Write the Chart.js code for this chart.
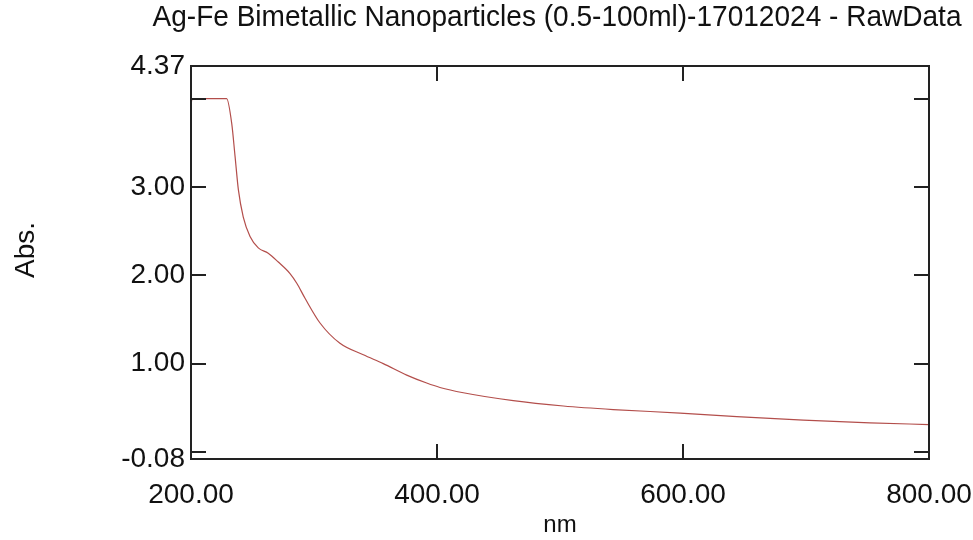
<!DOCTYPE html>
<html>
<head>
<meta charset="utf-8">
<title>Ag-Fe Bimetallic Nanoparticles - RawData</title>
<script src="https://cdn.jsdelivr.net/npm/chart.js@4.4.1/dist/chart.umd.min.js"></script>
<style>
  body { margin: 0; background: #fff; }
  #wrap { width: 973px; height: 540px; }
</style>
</head>
<body>
<div id="wrap"><canvas id="myChart" width="973" height="540"></canvas></div>
<script>
const titleText = 'Ag-Fe Bimetallic Nanoparticles (0.5-100ml)-17012024 - RawData';

// wavelength (nm) / absorbance
const wavelength = [200, 201, 229, 233.1, 235.8, 238.5, 242.5, 248, 254.7, 262.8, 271, 280.5, 286, 292.7,
  304.9, 321.1, 340.1, 356.3, 375.4, 391.6, 402.4, 421.4, 462, 502.7, 543.3, 597.6, 643.7, 697.8, 752, 800];
const absorbance = [3.94, 4.0, 4.0, 3.72, 3.35, 2.97, 2.66, 2.44, 2.31, 2.25, 2.15, 2.02, 1.91, 1.74,
  1.46, 1.23, 1.10, 1.00, 0.87, 0.78, 0.73, 0.67, 0.58, 0.52, 0.48, 0.44, 0.40, 0.36, 0.33, 0.31];

const xLabels = [200, 400, 600, 800];
const xTickMarks = [400, 600];
const yLabels = [-0.08, 1, 2, 3, 4.37];
const yTickMarks = [0, 1, 2, 3, 4];

const points = wavelength.map((w, i) => ({ x: w, y: absorbance[i] }));

// box round the plot, inward tick marks, title and the rotated y title
const frameAndTicks = {
  id: 'frameAndTicks',
  afterDraw(chart) {
    const { ctx, chartArea: a, scales: { x, y } } = chart;
    ctx.save();
    ctx.strokeStyle = '#222';
    ctx.lineWidth = 2;
    ctx.strokeRect(a.left, a.top, a.right - a.left, a.bottom - a.top);
    ctx.beginPath();
    yTickMarks.forEach(v => {
      const py = Math.round(y.getPixelForValue(v));
      ctx.moveTo(a.left, py); ctx.lineTo(a.left + 15, py);
      ctx.moveTo(a.right, py); ctx.lineTo(a.right - 15, py);
    });
    xTickMarks.forEach(v => {
      const px = Math.round(x.getPixelForValue(v));
      ctx.moveTo(px, a.top); ctx.lineTo(px, a.top + 15);
      ctx.moveTo(px, a.bottom); ctx.lineTo(px, a.bottom - 15);
    });
    ctx.stroke();

    ctx.fillStyle = '#111';
    ctx.textAlign = 'center';
    ctx.textBaseline = 'middle';
    // no narrow face installed, so squeeze the regular one to the title's width
    ctx.font = '30px "Liberation Sans Narrow", "Liberation Sans", Arial, sans-serif';
    ctx.fillText(titleText, 557, 18, 809);

    ctx.font = '28px "Liberation Sans", Arial, sans-serif';
    ctx.translate(26, 250);
    ctx.rotate(-Math.PI / 2);
    ctx.fillText('Abs.', 0, 0);
    ctx.restore();
  }
};

const ctx = document.getElementById('myChart').getContext('2d');
const myChart = new Chart(ctx, {
  type: 'line',
  data: {
    datasets: [{
      label: 'RawData',
      data: points,
      borderColor: '#b34e4b',
      borderWidth: 1.2,
      pointRadius: 0,
      cubicInterpolationMode: 'monotone',
      fill: false
    }]
  },
  options: {
    responsive: false,
    animation: false,
    layout: { padding: { left: 0, right: 44, top: 66, bottom: 0 } },
    plugins: {
      legend: { display: false },
      tooltip: { enabled: false },
      title: { display: false }
    },
    scales: {
      x: {
        type: 'linear',
        min: 200,
        max: 800,
        grid: { display: false, drawTicks: false },
        border: { display: false },
        afterBuildTicks: s => { s.ticks = xLabels.map(v => ({ value: v })); },
        afterFit: s => { s.height = 81; s.paddingLeft = 0; s.paddingRight = 0; },
        ticks: {
          autoSkip: false,
          maxRotation: 0,
          padding: 19,
          color: '#111',
          font: { family: '"Liberation Sans", Arial', size: 28 },
          callback: v => v.toFixed(2)
        },
        title: {
          display: true,
          text: 'nm',
          color: '#111',
          font: { family: '"Liberation Sans", Arial', size: 24 },
          padding: { top: 0, bottom: 0 }
        }
      },
      y: {
        min: -0.08,
        max: 4.37,
        grid: { display: false, drawTicks: false },
        border: { display: false },
        afterBuildTicks: s => { s.ticks = yLabels.map(v => ({ value: v })); },
        afterFit: s => { s.width = 191; s.paddingTop = 0; s.paddingBottom = 0; },
        ticks: {
          autoSkip: false,
          padding: 6,
          color: '#111',
          font: { family: '"Liberation Sans", Arial', size: 28 },
          callback: v => v.toFixed(2)
        }
      }
    }
  },
  plugins: [frameAndTicks]
});
</script>
</body>
</html>
